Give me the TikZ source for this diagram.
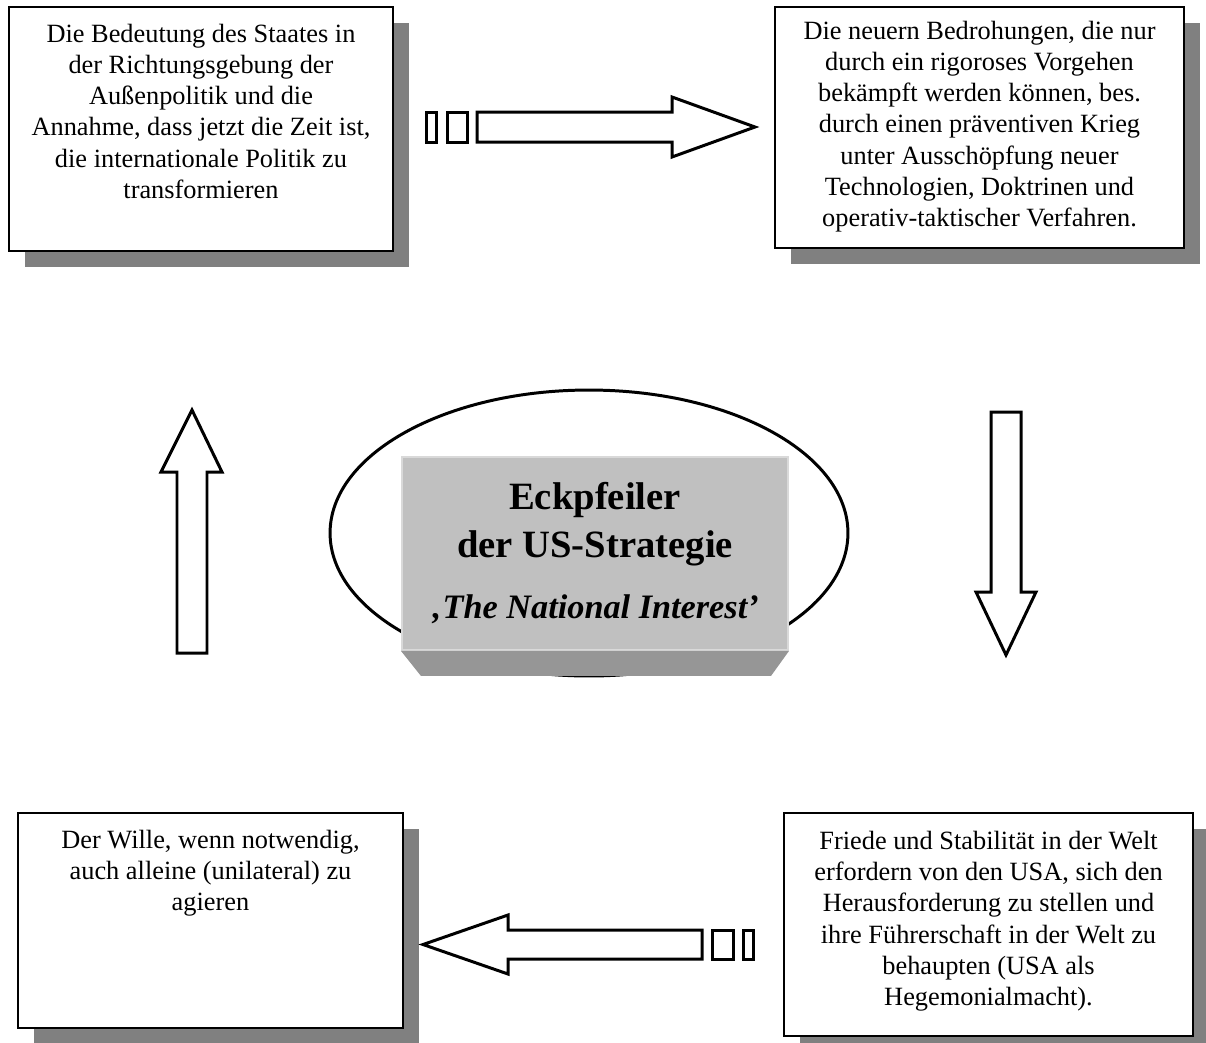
\documentclass[tikz,border=0pt]{standalone}
\usepackage{fontspec}
\setmainfont{Liberation Serif}
\usetikzlibrary{positioning,shadows,shapes.geometric}
\definecolor{facegray}{HTML}{C0C0C0}
\definecolor{bevelgray}{HTML}{969696}
\definecolor{shadowgray}{HTML}{808080}

\begin{document}
\begin{tikzpicture}[x = 0.02cm, y = -0.02cm,
    infobox/.style = { draw, line width = 1.1pt, fill = white,
      drop shadow={shadow xshift=0.32cm,shadow yshift=-0.32cm,fill=shadowgray,opacity=1} },
    boxtext/.style = { align = center, inner sep = 0pt, font = \fontsize{15}{17.7}\selectfont },
    blockarrow/.style = { draw, line width = 1.7pt, fill = white, line join = miter },
    coretext/.style = { align = center, inner sep = 0pt, font = \fontsize{22}{27.8}\selectfont\bfseries } ]
    \useasboundingbox (0,0) rectangle (1206,1042);

    \node [infobox, minimum width = 7.68cm, minimum height = 4.88cm] (staat) at (201,129) {};
    \node [boxtext, below = 0.36cm of staat.north] (staattext) { Die Bedeutung des Staates in \\ der Richtungsgebung der \\ Außenpolitik und die \\ Annahme, dass jetzt die Zeit ist, \\ die internationale Politik zu \\ transformieren };
    \node [infobox, minimum width = 8.18cm, minimum height = 4.82cm] (bedrohung) at (979.5,127.5) {};
    \node [boxtext, below = 0.3cm of bedrohung.north] (bedrohungtext) { Die neuern Bedrohungen, die nur \\ durch ein rigoroses Vorgehen \\ bekämpft werden können, bes. \\ durch einen präventiven Krieg \\ unter Ausschöpfung neuer \\ Technologien, Doktrinen und \\ operativ-taktischer Verfahren. };
    \node [infobox, minimum width = 7.7cm, minimum height = 4.3cm] (wille) at (210.5,920.5) {};
    \node [boxtext, below = 0.36cm of wille.north] (willetext) { Der Wille, wenn notwendig, \\ auch alleine (unilateral) zu \\ agieren };
    \node [infobox, minimum width = 8.18cm, minimum height = 4.46cm] (friede) at (988.5,924.5) {};
    \node [boxtext, below = 0.38cm of friede.north] (friedetext) { Friede und Stabilität in der Welt \\ erfordern von den USA, sich den \\ Herausforderung zu stellen und \\ ihre Führerschaft in der Welt zu \\ behaupten (USA als \\ Hegemonialmacht). };

    \node [draw, ellipse, line width = 1.7pt, minimum width = 10.36cm, minimum height = 5.72cm] (ring) at (589,533) {};
    \node [fill = facegray, draw = black!15, line width = 0.04cm, minimum width = 7.72cm, minimum height = 3.86cm] (core) at (595,553.5) {};
    \fill [bevelgray] (core.south east) -- ++(-18,25) -- ++(-350,0) -- (core.south west) -- cycle;
    \node [coretext] (coretitle) at (595,553) { Eckpfeiler \\ der US-Strategie \\[6.8pt] {\fontsize{19.5}{27.8}\selectfont\itshape ‚The National Interest’} };

    \draw [blockarrow] (426,112) rectangle (436,142);
    \draw [blockarrow] (447,112) rectangle (467,142);
    \draw [blockarrow] (477,112) -- (672,112) -- (672,97) -- (755,127) -- (672,157) -- (672,142) -- (477,142) -- cycle;

    \draw [blockarrow] (991,412) -- (1021,412) -- (1021,592) -- (1036,592) -- (1006,655) -- (976,592) -- (991,592) -- cycle;

    \draw [blockarrow] (743,930) rectangle (753,959);
    \draw [blockarrow] (712,930) rectangle (733,959);
    \draw [blockarrow] (702,930) -- (508,930) -- (508,915) -- (423,944.5) -- (508,974) -- (508,959) -- (702,959) -- cycle;

    \draw [blockarrow] (177,653) -- (177,472) -- (161,472) -- (192,410) -- (222,472) -- (207,472) -- (207,653) -- cycle;
\end{tikzpicture}
\end{document}
